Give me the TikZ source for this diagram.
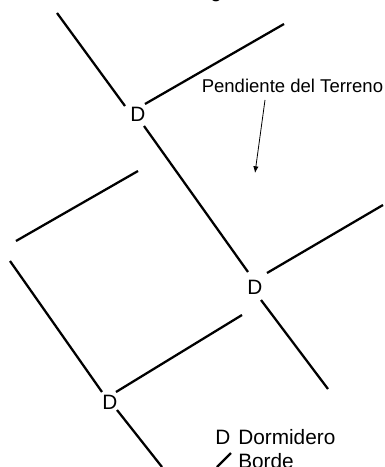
\documentclass[tikz,border=0pt]{standalone}
\usepackage{fontspec}
\setmainfont{Liberation Sans}
\usetikzlibrary{arrows.meta}
\tikzset{
  borde/.style={line width=1.7pt,line cap=butt},
  lbl/.style={inner sep=0pt,font=\fontsize{15.6}{18}\selectfont,anchor=center},
  txt/.style={inner sep=0pt,anchor=base west,font=\fontsize{15.6}{18}\selectfont},
  nota/.style={inner sep=0pt,anchor=base west,font=\fontsize{13.9}{16}\selectfont},
  pend/.style={line width=0.6pt,-{Latex[length=5pt,width=4pt]}}
}
\begin{document}
\begin{tikzpicture}[x=0.75pt,y=-0.75pt]
\useasboundingbox (0,0) rectangle (385,467);
\begin{scope}
\clip (0,0) rectangle (385,467);
\node[lbl] (d1) at (138,114) {D};
\node[lbl] (d2) at (255,287) {D};
\node[lbl] (d3) at (110,402.5) {D};
\node[lbl] (dl) at (223,437) {D};
\node[txt] (tdorm) at (238,444) {Dormidero};
\node[txt] (tbord) at (238,468) {Borde};
\node[nota] (tpend) at (201.5,93) {Pendiente del Terreno};
\node[txt] (tcut) at (210,-2) {g};
\coordinate (a1) at (57,13);
\coordinate (a2) at (125,106);
\coordinate (b1) at (145,104);
\coordinate (b2) at (284,24);
\coordinate (c1) at (144,126);
\coordinate (c2) at (248,272);
\coordinate (e1) at (267,273);
\coordinate (e2) at (383,205);
\coordinate (f1) at (261,300);
\coordinate (f2) at (328,389);
\coordinate (g1) at (242,315);
\coordinate (g2) at (116,392);
\coordinate (h1) at (10,261);
\coordinate (h2) at (102,392);
\coordinate (i1) at (117,410);
\coordinate (i2) at (162,467);
\coordinate (j1) at (138,171);
\coordinate (j2) at (16,241);
\coordinate (k1) at (231,453);
\coordinate (k2) at (217,467);
\coordinate (p1) at (265,100);
\coordinate (p2) at (255,173);
\draw[borde] (a1)--(a2);
\draw[borde] (b1)--(b2);
\draw[borde] (c1)--(c2);
\draw[borde] (e1)--(e2);
\draw[borde] (f1)--(f2);
\draw[borde] (g1)--(g2);
\draw[borde] (h1)--(h2);
\draw[borde] (i1)--(i2);
\draw[borde] (j1)--(j2);
\draw[borde] (k1)--(k2);
\draw[pend] (p1)--(p2);
\end{scope}
\end{tikzpicture}
\end{document}
